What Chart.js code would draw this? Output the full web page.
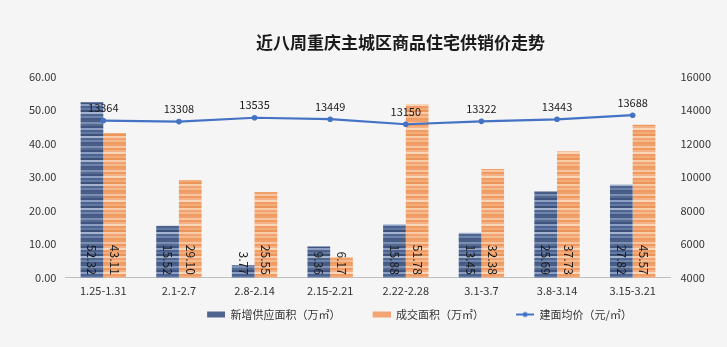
<!DOCTYPE html>
<html>
<head>
<meta charset="utf-8">
<script src="https://cdn.jsdelivr.net/npm/chart.js@4/dist/chart.umd.min.js"></script>
<style>
  html, body { margin: 0; padding: 0; background: #f5f5f5; }
  #wrap { width: 727px; height: 347px; }
</style>
</head>
<body>
<div id="wrap"><canvas id="c" width="727" height="347"></canvas></div>
<script>
const weeks = ['1.25-1.31', '2.1-2.7', '2.8-2.14', '2.15-2.21', '2.22-2.28', '3.1-3.7', '3.8-3.14', '3.15-3.21'];
const supplyArea = [52.32, 15.52, 3.77, 9.36, 15.88, 13.45, 25.69, 27.82];
const dealArea = [43.11, 29.10, 25.55, 6.17, 51.78, 32.38, 37.73, 45.57];
const avgPrice = [13364, 13308, 13535, 13449, 13150, 13322, 13443, 13688];

const FONT = '"Noto Sans CJK SC", "Noto Sans", sans-serif';

// horizontal stripe texture like the original bars
function stripes(shades) {
  const cv = document.createElement('canvas');
  cv.width = 4;
  cv.height = shades.length * 2;
  const g = cv.getContext('2d');
  shades.forEach((s, i) => {
    g.fillStyle = s;
    g.fillRect(0, i * 2, 4, 2);
  });
  return g.createPattern(cv, 'repeat');
}
const ctx = document.getElementById('c').getContext('2d');
const bluePat = stripes(['#4a5f88', '#7b8fb4', '#56698f', '#3f5480', '#8c9fc2', '#4d6290', '#617aa3', '#3c5078', '#a3b3d0', '#50668f', '#6d84ad', '#455b85']);
const orangePat = stripes(['#f0a06a', '#f8c7a2', '#ee9a60', '#f5b185', '#fad6b8', '#f09c64', '#f3ab7a', '#ec955a', '#f9cdaa', '#f1a26e', '#f6ba90', '#ef9c63']);

// legend icon, with a transparent lead-in to space the items out like excel
const GAP = 26;
const ICON_W = 18 + GAP;
function legendIcon(kind, color) {
  const cv = document.createElement('canvas');
  cv.width = ICON_W;
  cv.height = 8;
  const g = cv.getContext('2d');
  if (kind === 'bar') {
    g.fillStyle = color;
    g.fillRect(GAP, 1, 18, 6);
  } else {
    g.strokeStyle = color;
    g.lineWidth = 2;
    g.beginPath();
    g.moveTo(GAP, 4);
    g.lineTo(GAP + 18, 4);
    g.stroke();
    g.fillStyle = color;
    g.beginPath();
    g.arc(GAP + 9, 4, 2.5, 0, Math.PI * 2);
    g.fill();
  }
  return cv;
}

// the excel title and legend sit right of centre: nudge both boxes over
const boxShift = {
  id: 'boxShift',
  afterLayout(chart) {
    const lg = chart.legend;
    if (lg) {
      lg.left += 36;
      lg.right += 36;
    }
    const tb = chart.titleBlock;
    if (tb) {
      tb.left += 30;
      tb.right += 30;
    }
  },
};

const labelPlugin = {
  id: 'valueLabels',
  afterDatasetsDraw(chart) {
    const c = chart.ctx;
    c.save();
    c.fillStyle = '#1a1a1a';
    c.font = '12px ' + FONT;
    [0, 1].forEach((di) => {
      const meta = chart.getDatasetMeta(di);
      const vals = chart.data.datasets[di].data;
      meta.data.forEach((bar, i) => {
        c.save();
        c.translate(bar.x, bar.base - 3);
        c.rotate(Math.PI / 2);
        c.textAlign = 'right';
        c.textBaseline = 'middle';
        c.fillText(vals[i].toFixed(2), 0, 0);
        c.restore();
      });
    });
    const lm = chart.getDatasetMeta(2);
    c.font = '11px ' + FONT;
    c.textAlign = 'center';
    c.textBaseline = 'bottom';
    lm.data.forEach((pt, i) => {
      c.fillText(String(avgPrice[i]), pt.x, pt.y - 7);
    });
    c.restore();
  },
};

new Chart(ctx, {
  data: {
    labels: weeks,
    datasets: [
      {
        type: 'bar',
        label: '新增供应面积（万㎡）',
        data: supplyArea,
        backgroundColor: bluePat,
        yAxisID: 'y',
        order: 2,
        categoryPercentage: 0.6,
        barPercentage: 1.0,
      },
      {
        type: 'bar',
        label: '成交面积（万㎡）',
        data: dealArea,
        backgroundColor: orangePat,
        yAxisID: 'y',
        order: 2,
        categoryPercentage: 0.6,
        barPercentage: 1.0,
      },
      {
        type: 'line',
        label: '建面均价（元/㎡）',
        data: avgPrice,
        borderColor: '#4472c4',
        backgroundColor: '#4472c4',
        borderWidth: 2.2,
        pointRadius: 2.8,
        pointBackgroundColor: '#4472c4',
        pointBorderWidth: 0,
        tension: 0,
        yAxisID: 'y1',
        order: 1,
      },
    ],
  },
  options: {
    responsive: false,
    animation: false,
    layout: { padding: { left: 20, right: 6, bottom: 17 } },
    plugins: {
      title: {
        display: true,
        text: '近八周重庆主城区商品住宅供销价走势',
        color: '#1a1a1a',
        font: { family: FONT, size: 17, weight: 'bold' },
        padding: { top: 32, bottom: 24 },
      },
      legend: {
        position: 'bottom',
        padding: 0,
        labels: {
          color: '#333',
          font: { family: FONT, size: 11 },
          usePointStyle: true,
          pointStyleWidth: ICON_W,
          padding: 6,
          generateLabels(chart) {
            const cols = ['#4f6590', '#f2a572', '#4472c4'];
            return chart.data.datasets.map((ds, i) => ({
              text: ds.label,
              fillStyle: cols[i],
              strokeStyle: cols[i],
              fontColor: '#333',
              pointStyle: legendIcon(i < 2 ? 'bar' : 'line', cols[i]),
              datasetIndex: i,
              hidden: false,
              lineWidth: 0,
            }));
          },
        },
      },
      tooltip: { enabled: false },
    },
    scales: {
      x: {
        grid: { display: false, drawTicks: false },
        border: { color: '#bfbfbf' },
        ticks: { color: '#333', font: { family: FONT, size: 11 }, padding: 6 },
      },
      y: {
        position: 'left',
        min: 0,
        max: 60,
        grid: { display: false, drawTicks: false },
        border: { display: false },
        ticks: {
          stepSize: 10,
          color: '#333',
          font: { family: FONT, size: 11 },
          padding: 9,
          callback: (v) => v.toFixed(2),
        },
      },
      y1: {
        position: 'right',
        min: 4000,
        max: 16000,
        grid: { display: false, drawTicks: false },
        border: { display: false },
        ticks: {
          stepSize: 2000,
          color: '#333',
          font: { family: FONT, size: 11 },
          padding: 10,
          callback: (v) => String(v),
        },
      },
    },
  },
  plugins: [labelPlugin, boxShift],
});
</script>
</body>
</html>
